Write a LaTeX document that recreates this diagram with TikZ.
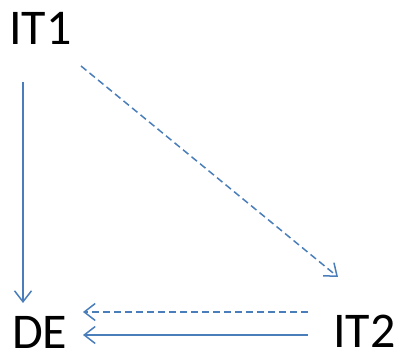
\documentclass[tikz,border=0pt]{standalone}
\usepackage{fontspec}
\setmainfont{Carlito}
\usetikzlibrary{arrows.meta,calc}
\definecolor{lineblue}{HTML}{4A7EBB}
\begin{document}
\begin{tikzpicture}[x=1bp,y=1bp,
  lbl/.style={inner sep=0pt,anchor=base west,font=\fontsize{50bp}{60bp}\selectfont},
  conn/.style={draw=lineblue,line width=1.5bp,-{Straight Barb[length=11bp,width=17bp,line width=1.5bp]}},
  dashconn/.style={conn,dash pattern=on 7bp off 4bp}]
\useasboundingbox (0,0) rectangle (400,354);
\node[lbl] (IT1) at (9,310) {IT1};
\node[lbl] (DE) at (12,6) {DE};
\node[lbl] (IT2) at (333,7) {IT2};
\draw[conn] ($(IT1.base west)+(14,-38)$) -- ($(DE.base west)+(11,45)$);
\draw[dashconn] ($(IT1.base west)+(72,-22)$) -- ($(IT2.base west)+(5,70)$);
\draw[dashconn] ($(IT2.base west)+(-25,35)$) -- ($(DE.base west)+(71,36)$);
\draw[conn] ($(IT2.base west)+(-25,12)$) -- ($(DE.base west)+(71,13)$);
\end{tikzpicture}
\end{document}
